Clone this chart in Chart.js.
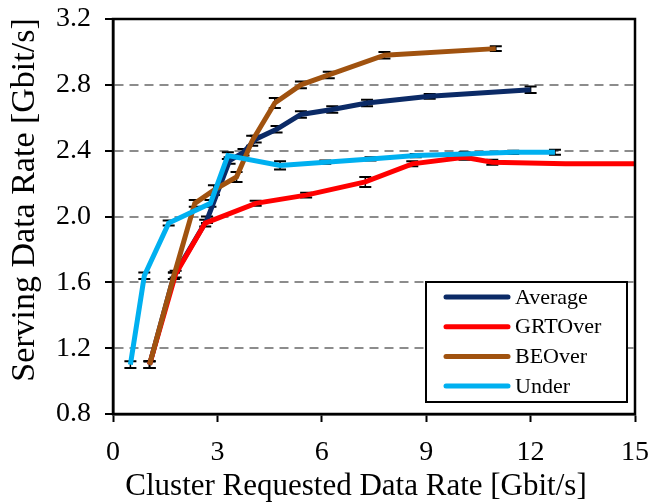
<!DOCTYPE html>
<html>
<head>
<meta charset="utf-8">
<script src="https://cdn.jsdelivr.net/npm/chart.js@4"></script>
<style>
  html, body { margin: 0; padding: 0; background: #fff; }
  #wrap { width: 649px; height: 504px; }
</style>
</head>
<body>
<div id="wrap"><canvas id="chart" width="649" height="504"></canvas></div>
<script>
// series data (x = requested, y = served, Gbit/s)
const seriesNames = ['Average', 'GRTOver', 'BEOver', 'Under'];
const seriesColors = ['#0b2a66', '#ff0000', '#a0520f', '#00b0f0'];

const averageX = [1.05, 1.75, 2.7, 3.35, 3.75, 4.1, 4.7, 5.4, 6.3, 7.3, 9.1, 12.0];
const averageY = [1.10, 1.64, 1.98, 2.34, 2.39, 2.47, 2.53, 2.62, 2.65, 2.69, 2.73, 2.77];
const averageErr = [0.02, 0.02, 0.02, 0.02, 0.02, 0.02, 0.02, 0.02, 0.02, 0.02, 0.015, 0.02];

const grtX = [1.05, 1.8, 2.65, 4.1, 5.55, 7.25, 8.6, 10.1, 10.9, 13.0, 15.0];
const grtY = [1.10, 1.65, 1.96, 2.08, 2.13, 2.21, 2.32, 2.36, 2.33, 2.32, 2.32];
const grtErr = [0.02, 0.02, 0.02, 0.015, 0.015, 0.03, 0.015, 0.015, 0.015, 0.0, 0.0];

const beX = [1.05, 1.75, 2.35, 2.9, 3.55, 4.0, 4.65, 5.4, 6.2, 7.8, 11.0];
const beY = [1.10, 1.64, 2.08, 2.16, 2.24, 2.46, 2.69, 2.80, 2.86, 2.98, 3.02];
const beErr = [0.02, 0.02, 0.02, 0.03, 0.03, 0.03, 0.03, 0.02, 0.02, 0.02, 0.015];

const underX = [0.5, 0.9, 1.6, 2.8, 3.3, 4.8, 6.1, 7.4, 8.7, 10.1, 11.5, 12.7];
const underY = [1.10, 1.64, 1.96, 2.08, 2.37, 2.31, 2.33, 2.35, 2.37, 2.38, 2.39, 2.39];
const underErr = [0.02, 0.02, 0.015, 0.02, 0.02, 0.025, 0.01, 0.01, 0.01, 0.01, 0.01, 0.015];

const xTicks = [0, 3, 6, 9, 12, 15];
const yTicks = [0.8, 1.2, 1.6, 2.0, 2.4, 2.8, 3.2];

const xTitle = 'Cluster Requested Data Rate [Gbit/s]';
const yTitle = 'Serving Data Rate [Gbit/s]';

const allX = [averageX, grtX, beX, underX];
const allY = [averageY, grtY, beY, underY];
const allErr = [averageErr, grtErr, beErr, underErr];

const FONT = '"Liberation Serif", "Times New Roman", serif';

function toPoints(xs, ys) {
    return xs.map((x, i) => ({ x: x, y: ys[i] }));
}

// error bars, drawn under the lines
const errorBars = {
    id: 'errorBars',
    beforeDatasetsDraw(chart) {
        const ctx = chart.ctx;
        const xs = chart.scales.x, ys = chart.scales.y;
        ctx.save();
        ctx.strokeStyle = '#000';
        allX.forEach((xArr, s) => {
            xArr.forEach((x, i) => {
                const e = allErr[s][i];
                if (!e) return;
                const px = xs.getPixelForValue(x);
                const top = ys.getPixelForValue(allY[s][i] + e);
                const bot = ys.getPixelForValue(allY[s][i] - e);
                ctx.lineWidth = 1.5;
                ctx.beginPath();
                ctx.moveTo(px, top); ctx.lineTo(px, bot);
                ctx.stroke();
                ctx.lineWidth = 2;
                ctx.beginPath();
                ctx.moveTo(px - 6, top); ctx.lineTo(px + 6, top);
                ctx.moveTo(px - 6, bot); ctx.lineTo(px + 6, bot);
                ctx.stroke();
            });
        });
        ctx.restore();
    }
};

// box around the plot, axis titles, legend inside lower right
const frameAndLegend = {
    id: 'frameAndLegend',
    afterDraw(chart) {
        const ctx = chart.ctx;
        const a = chart.chartArea;
        ctx.save();
        ctx.strokeStyle = '#000';
        ctx.lineWidth = 2.5;
        ctx.strokeRect(a.left, a.top, a.right - a.left, a.bottom - a.top);

        // axis titles (the reference has the x title left of the plot centre)
        ctx.fillStyle = '#000';
        ctx.font = '31px ' + FONT;
        ctx.textAlign = 'center';
        ctx.textBaseline = 'alphabetic';
        ctx.fillText(xTitle, 356, 495);
        ctx.save();
        ctx.translate(34, 200);
        ctx.rotate(-Math.PI / 2);
        ctx.font = '34px ' + FONT;
        ctx.fillText(yTitle, 0, 0);
        ctx.restore();

        // legend box
        const bx = 426, by = 282, bw = 201, bh = 120;
        ctx.textAlign = 'left';
        ctx.fillStyle = '#fff';
        ctx.fillRect(bx, by, bw, bh);
        ctx.lineWidth = 2;
        ctx.strokeRect(bx, by, bw, bh);
        ctx.font = '22px ' + FONT;
        ctx.textBaseline = 'middle';
        seriesNames.forEach((name, i) => {
            const y = by + 15 + i * 29.7;
            ctx.strokeStyle = seriesColors[i];
            ctx.lineWidth = 5;
            ctx.lineCap = 'round';
            ctx.beginPath();
            ctx.moveTo(446, y); ctx.lineTo(508, y);
            ctx.stroke();
            ctx.fillStyle = '#000';
            ctx.fillText(name, 515, y + 1);
        });
        ctx.restore();
    }
};

const datasets = seriesNames.map((name, i) => ({
    label: name,
    data: toPoints(allX[i], allY[i]),
    borderColor: seriesColors[i],
    backgroundColor: seriesColors[i],
    borderWidth: 5,
    pointRadius: 0,
    tension: 0,
    fill: false,
    order: 4 - i
}));

new Chart(document.getElementById('chart'), {
    type: 'line',
    data: { datasets: datasets },
    plugins: [errorBars, frameAndLegend],
    options: {
        responsive: false,
        animation: false,
        events: [],
        layout: { padding: { left: 0, right: 14, top: 19, bottom: 0 } },
        plugins: {
            legend: { display: false },
            tooltip: { enabled: false }
        },
        scales: {
            x: {
                type: 'linear',
                min: 0,
                max: 15,
                afterBuildTicks: s => { s.ticks = xTicks.map(v => ({ value: v })); },
                afterFit: s => { s.height = 90; s.paddingLeft = 0; s.paddingRight = 0; },
                ticks: {
                    color: '#000',
                    font: { family: FONT, size: 28 },
                    padding: 14,
                    maxRotation: 0
                },
                grid: {
                    drawOnChartArea: false,
                    tickLength: 8,
                    tickWidth: 2,
                    tickColor: '#000'
                },
                border: { display: true, color: '#000', width: 2.5 }
            },
            y: {
                type: 'linear',
                min: 0.8,
                max: 3.2,
                afterBuildTicks: s => { s.ticks = yTicks.map(v => ({ value: v })); },
                afterFit: s => { s.width = 113; s.paddingTop = 0; s.paddingBottom = 0; },
                ticks: {
                    color: '#000',
                    font: { family: FONT, size: 28 },
                    padding: 14,
                    callback: v => v.toFixed(1)
                },
                grid: {
                    color: c => (c.tick && (c.tick.value <= 0.8 || c.tick.value >= 3.2)) ? 'rgba(0,0,0,0)' : '#8c8c8c',
                    lineWidth: 2,
                    tickLength: 8,
                    tickWidth: 2,
                    tickColor: '#000',
                    tickBorderDash: []
                },
                border: { display: true, color: '#000', width: 2.5, dash: [9, 6] }
            }
        }
    }
});
</script>
</body>
</html>
